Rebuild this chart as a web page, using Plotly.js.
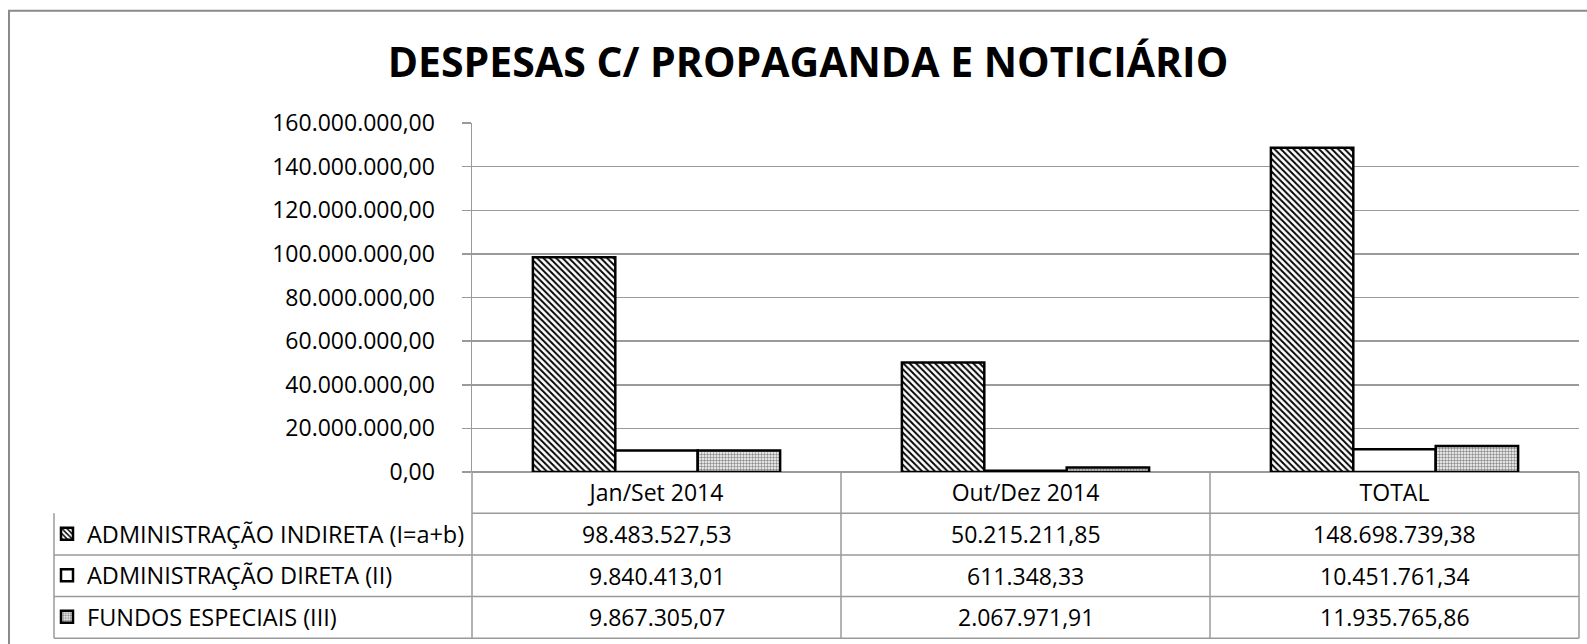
<!DOCTYPE html>
<html><head><meta charset="utf-8">
<script src="https://cdn.plot.ly/plotly-3.0.1.min.js"></script>
<style>html,body{margin:0;padding:0;background:#fff;}#chart{width:1587px;height:644px;}</style>
</head><body><div id="chart"></div>
<script>
const categories = ['Jan/Set 2014', 'Out/Dez 2014', 'TOTAL'];
const seriesNames = ['ADMINISTRAÇÃO INDIRETA (I=a+b)', 'ADMINISTRAÇÃO DIRETA (II)', 'FUNDOS ESPECIAIS (III)'];
const indireta = [98483527.53, 50215211.85, 148698739.38];
const direta = [9840413.01, 611348.33, 10451761.34];
const fundos = [9867305.07, 2067971.91, 11935765.86];
const tableText = [
  ['98.483.527,53', '50.215.211,85', '148.698.739,38'],
  ['9.840.413,01', '611.348,33', '10.451.761,34'],
  ['9.867.305,07', '2.067.971,91', '11.935.765,86']
];

const W = 1587, H = 644;
const L = 472, R = 1579, T = 122.5, B = 472;
const PW = R - L, PH = B - T;
const px = x => (x - L) / PW;
const py = y => (B - y) / PH;
const FONT = 'Open Sans, Lato, sans-serif';

const patterns = [
  {shape: '\\', fgcolor: '#000', bgcolor: '#fff', size: 4.5, solidity: 0.42},
  {shape: '', fgcolor: '#000', bgcolor: '#fff'},
  {shape: '.', fgcolor: '#8c8c8c', bgcolor: '#fff', size: 3, solidity: 0.5}
];
const seriesVals = [indireta, direta, fundos];
const traces = seriesVals.map((vals, i) => ({
  type: 'bar', x: categories, y: vals, name: seriesNames[i], legendgroup: 'g' + i,
  marker: {color: '#fff', line: {color: '#000', width: 2.5}, pattern: patterns[i]},
  hoverinfo: 'skip'
}));

const rowTops = [513.3, 555, 596.7, 638.4];
const lineStyle = {color: '#9a9a9a', width: 1.5};
const shapes = [];
shapes.push({type: 'rect', xref: 'paper', yref: 'paper', x0: px(9), x1: px(1600), y0: py(10), y1: py(660), line: {color: '#8a8a8a', width: 2}, fillcolor: 'rgba(0,0,0,0)', layer: 'below'});
shapes.push({type: 'line', xref: 'paper', yref: 'paper', x0: 0, x1: 1, y0: py(rowTops[0]), y1: py(rowTops[0]), line: lineStyle});
rowTops.slice(1).forEach(y => shapes.push({type: 'line', xref: 'paper', yref: 'paper', x0: px(54), x1: 1, y0: py(y), y1: py(y), line: lineStyle}));
shapes.push({type: 'line', xref: 'paper', yref: 'paper', x0: px(54), x1: px(54), y0: py(rowTops[0]), y1: py(rowTops[3]), line: lineStyle});
[0, 1 / 3, 2 / 3, 1].forEach(x => shapes.push({type: 'line', xref: 'paper', yref: 'paper', x0: x, x1: x, y0: py(B), y1: py(rowTops[3]), line: lineStyle}));

const annotations = [];
tableText.forEach((row, i) => row.forEach((t, j) => annotations.push({
  xref: 'x', yref: 'paper', x: j, y: py((rowTops[i] + rowTops[i + 1]) / 2), text: t, showarrow: false,
  xanchor: 'center', yanchor: 'middle', font: {family: FONT, size: 23, color: '#000'}
})));

const layout = {
  width: W, height: H,
  margin: {l: L, r: W - R, t: T, b: H - B, pad: 0, autoexpand: false},
  paper_bgcolor: '#fff', plot_bgcolor: '#fff',
  separators: ',.',
  title: {text: '<b>DESPESAS C/ PROPAGANDA E NOTICIÁRIO</b>', font: {family: FONT, size: 41, color: '#000'}, x: 808 / W, xanchor: 'center', y: 1 - 63 / H, yanchor: 'middle'},
  barmode: 'group', bargap: 0.33, bargroupgap: 0,
  xaxis: {type: 'category', range: [-0.5, 2.5], showgrid: false, showline: false, ticks: '', zeroline: false, automargin: false,
    tickfont: {family: FONT, size: 23, color: '#000'}, ticklabelstandoff: 5, fixedrange: true},
  yaxis: {range: [0, 160000000], dtick: 20000000, tickformat: ',.2f', showgrid: true, gridcolor: '#9a9a9a', gridwidth: 1.5,
    showline: true, linecolor: '#9a9a9a', linewidth: 1.5, ticks: 'outside', ticklen: 9, tickcolor: '#9a9a9a', tickwidth: 1.5,
    zeroline: true, zerolinecolor: '#9a9a9a', zerolinewidth: 1.5, automargin: false,
    tickfont: {family: FONT, size: 23, color: '#000'}, ticklabelstandoff: 22, fixedrange: true},
  showlegend: true,
  legend: {xref: 'paper', yref: 'paper', x: px(47), xanchor: 'left', y: py(512), yanchor: 'top', orientation: 'v', traceorder: 'grouped',
    tracegroupgap: 8, bgcolor: 'rgba(0,0,0,0)', borderwidth: 0, font: {family: FONT, size: 23.5, color: '#000'}, itemclick: false, itemdoubleclick: false},
  shapes: shapes, annotations: annotations
};
Plotly.newPlot('chart', traces, layout, {displayModeBar: false, staticPlot: true});
</script></body></html>
